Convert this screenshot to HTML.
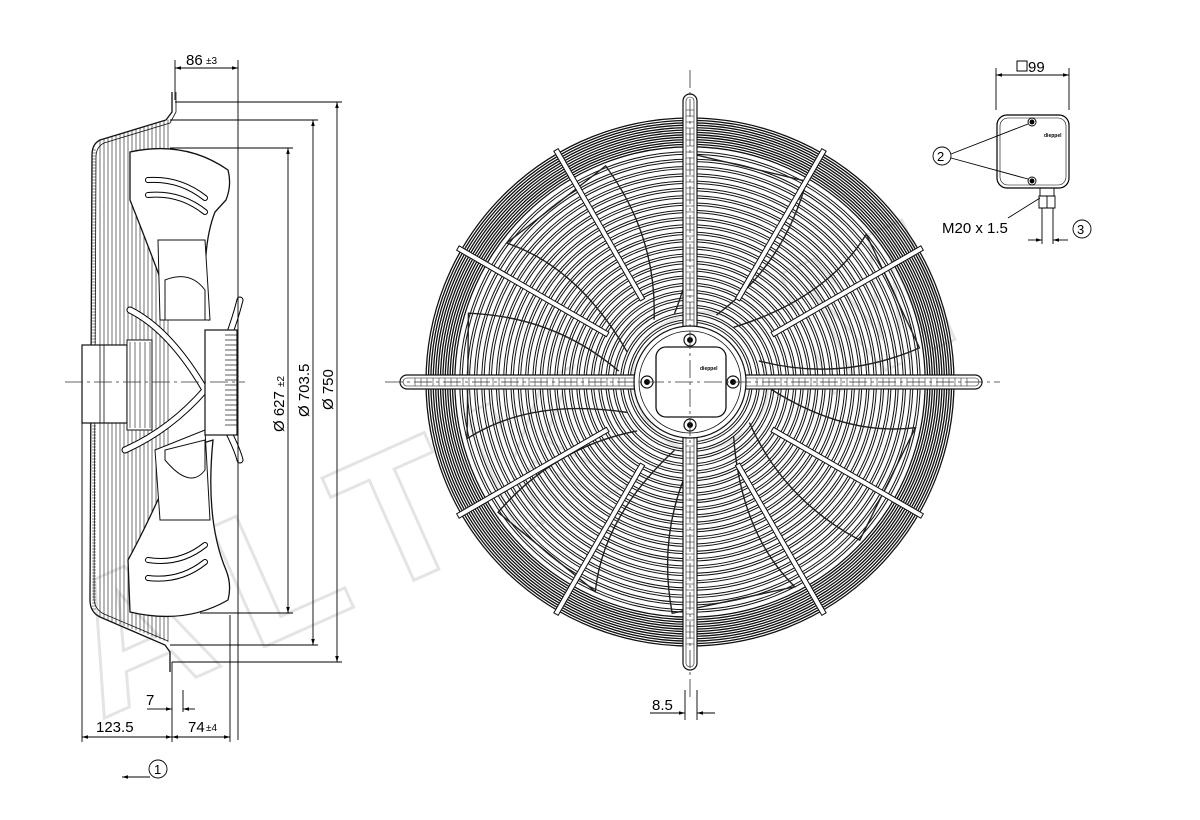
<!DOCTYPE html>
<html><head><meta charset="utf-8"><style>
html,body{margin:0;padding:0;background:#fff;}
svg{display:block;font-family:"Liberation Sans",Arial,sans-serif;}
</style></head><body>
<svg id="s" width="1200" height="820" viewBox="0 0 1200 820" xmlns="http://www.w3.org/2000/svg">
<defs>
<marker id="a" viewBox="0 0 10 10" refX="10" refY="5" markerWidth="10" markerHeight="6" orient="auto-start-reverse" markerUnits="userSpaceOnUse"><path d="M0,2 L10,5 L0,8 z" fill="#000"/></marker>
</defs>
<g fill="none" transform="translate(100,720) rotate(-24)">
<text x="0" y="0" font-size="190" font-weight="bold" letter-spacing="30" stroke="#e4e4e4" stroke-width="3" fill="none">ALTKOM</text>
</g>
<g id="front" fill="none" stroke="#111"></g>
<g id="side" fill="none" stroke="#111" stroke-width="1"></g>
<g stroke="#333" stroke-width="0.8" stroke-dasharray="18,4,3,4" fill="none">
<line x1="385" y1="382" x2="1000" y2="382"/>
<line x1="690" y1="70" x2="690" y2="700"/>
<line x1="65" y1="382" x2="245" y2="382"/>
</g>
<g stroke="#000" stroke-width="0.9" fill="none">
<line x1="175" y1="60" x2="175" y2="100"/>
<line x1="238" y1="60" x2="238" y2="740"/>
<line x1="175" y1="68" x2="238" y2="68" marker-start="url(#a)" marker-end="url(#a)"/>
<line x1="175" y1="102" x2="342" y2="102"/>
<line x1="170" y1="120" x2="318" y2="120"/>
<line x1="170" y1="148" x2="293" y2="148"/>
<line x1="200" y1="613" x2="293" y2="613"/>
<line x1="170" y1="645" x2="318" y2="645"/>
<line x1="172" y1="662" x2="342" y2="662"/>
<line x1="288" y1="148" x2="288" y2="613" marker-start="url(#a)" marker-end="url(#a)"/>
<line x1="313" y1="120" x2="313" y2="645" marker-start="url(#a)" marker-end="url(#a)"/>
<line x1="337" y1="102" x2="337" y2="662" marker-start="url(#a)" marker-end="url(#a)"/>
<line x1="82" y1="420" x2="82" y2="742"/>
<line x1="172" y1="662" x2="172" y2="742"/>
<line x1="230" y1="615" x2="230" y2="742"/>
<line x1="82" y1="737" x2="172" y2="737" marker-start="url(#a)" marker-end="url(#a)"/>
<line x1="172" y1="737" x2="230" y2="737" marker-start="url(#a)" marker-end="url(#a)"/>
<line x1="147" y1="709" x2="160" y2="709"/>
<line x1="160" y1="709" x2="172" y2="709" marker-end="url(#a)"/>
<line x1="195" y1="709" x2="183" y2="709" marker-end="url(#a)"/>
<line x1="183" y1="690" x2="183" y2="712"/>
<line x1="150" y1="777" x2="122" y2="777" marker-end="url(#a)"/>
<circle cx="158" cy="769" r="9"/>
<line x1="685" y1="690" x2="685" y2="720"/>
<line x1="697" y1="690" x2="697" y2="720"/>
<line x1="650" y1="713" x2="685" y2="713" marker-end="url(#a)"/>
<line x1="715" y1="713" x2="697" y2="713" marker-end="url(#a)"/>
</g>
<g font-size="15" fill="#000">
<text x="186" y="65">86</text><text x="206" y="64" font-size="10">±3</text>
<text transform="translate(284,432) rotate(-90)">Ø 627 <tspan font-size="10">±2</tspan></text>
<text transform="translate(309,417) rotate(-90)">Ø 703.5</text>
<text transform="translate(333,410) rotate(-90)">Ø 750</text>
<text x="146" y="705">7</text>
<text x="96" y="732">123.5</text>
<text x="188" y="732">74</text><text x="206" y="731" font-size="10">±4</text>
<text x="154" y="774" font-size="13">1</text>
<text x="652" y="710">8.5</text>
</g>
<g stroke="#000" stroke-width="0.9" fill="none">
<line x1="996" y1="68" x2="996" y2="110"/>
<line x1="1069" y1="68" x2="1069" y2="110"/>
<line x1="996" y1="75" x2="1069" y2="75" marker-start="url(#a)" marker-end="url(#a)"/>
<rect x="997" y="115" width="72" height="73" rx="10" stroke-width="1.2"/>
<rect x="1000" y="118" width="66" height="67" rx="8" stroke-width="0.6"/>
<circle cx="1032" cy="122" r="4"/><circle cx="1032" cy="122" r="2" fill="#000"/>
<circle cx="1032" cy="181" r="4"/><circle cx="1032" cy="181" r="2" fill="#000"/>
<circle cx="942" cy="156" r="9"/>
<line x1="951" y1="154" x2="1028" y2="124"/>
<line x1="951" y1="158" x2="1028" y2="179"/>
<rect x="1040" y="188" width="14" height="8"/>
<path d="M1039,196 h16 v12 h-16 z"/>
<line x1="1047" y1="196" x2="1047" y2="208"/>
<line x1="1042" y1="208" x2="1042" y2="244"/>
<line x1="1053" y1="208" x2="1053" y2="244"/>
<line x1="1008" y1="218" x2="1040" y2="198"/>
<line x1="1028" y1="240" x2="1042" y2="240" marker-end="url(#a)"/>
<line x1="1068" y1="240" x2="1053" y2="240" marker-end="url(#a)"/>
<circle cx="1082" cy="229" r="9"/>
</g>
<g font-size="15" fill="#000">
<text x="1028" y="72">99</text>
<rect x="1017" y="61" width="10" height="10" fill="none" stroke="#000"/>
<text x="1044" y="137" font-size="5" font-weight="bold">dieppel</text>
<text x="937" y="161" font-size="13">2</text>
<text x="942" y="233">M20 x 1.5</text>
<text x="1077" y="234" font-size="13">3</text>
</g>
</svg>
<script>
(function(){
var NS="http://www.w3.org/2000/svg";
function el(p,t,a){var e=document.createElementNS(NS,t);for(var k in a)e.setAttribute(k,a[k]);p.appendChild(e);return e;}
var f=document.getElementById('front'),cx=690,cy=382;
for(var r=264;r>=235;r-=2.4) el(f,'circle',{cx:cx,cy:cy,r:r,'stroke-width':1.3});
for(var r=229;r>=60;r-=7.3){el(f,'circle',{cx:cx,cy:cy,r:r,'stroke-width':3.4});el(f,'circle',{cx:cx,cy:cy,r:r,'stroke-width':1.4,stroke:'#fff'});}
for(var i=0;i<7;i++){var a=i*2*Math.PI/7;
 var p=function(rr,da){return [cx+rr*Math.cos(a+da),cy+rr*Math.sin(a+da)];};
 var A=p(70,0),B=p(160,0.35),C=p(230,0.2),D=p(232,0.75),E=p(150,0.9),F=p(72,0.6);
 el(f,'path',{d:'M'+A+' Q'+B+' '+C+' L'+D+' Q'+E+' '+F,'stroke-width':1.4,stroke:'#222'});}
for(var k=0;k<12;k++){if(k%3==0)continue;var a=k*Math.PI/6;
 var ca=Math.cos(a),sa=Math.sin(a),nx=-sa*2.5,ny=ca*2.5;
 var x1=cx+95*ca,y1=cy+95*sa,x2=cx+268*ca,y2=cy+268*sa;
 el(f,'polygon',{points:(x1+nx)+','+(y1+ny)+' '+(x2+nx)+','+(y2+ny)+' '+(x2-nx)+','+(y2-ny)+' '+(x1-nx)+','+(y1-ny),fill:'#fff','stroke-width':1});}
el(f,'rect',{x:683,y:94,width:14,height:576,rx:7,fill:'#fff','stroke-width':1.2});
el(f,'rect',{x:686,y:97,width:8,height:570,rx:4,'stroke-width':0.6});
el(f,'rect',{x:400,y:375,width:582,height:14,rx:7,fill:'#fff','stroke-width':1.2});
el(f,'rect',{x:403,y:378,width:576,height:8,rx:4,'stroke-width':0.6});
for(var y=110;y<650;y+=6){if(y>320&&y<445)continue;el(f,'line',{x1:686,y1:y,x2:694,y2:y,'stroke-width':0.5});}
for(var x=415;x<970;x+=6){if(x>625&&x<755)continue;el(f,'line',{x1:x,y1:378,x2:x,y2:386,'stroke-width':0.5});}
el(f,'circle',{cx:cx,cy:cy,r:56,fill:'#fff','stroke-width':1.2});
el(f,'circle',{cx:cx,cy:cy,r:51,'stroke-width':0.8});
el(f,'rect',{x:656,y:347,width:70,height:70,rx:10,fill:'#fff','stroke-width':1.3});
[[690,340],[690,425],[647,382],[733,382]].forEach(function(q){el(f,'circle',{cx:q[0],cy:q[1],r:6,fill:'#fff','stroke-width':1.2});el(f,'circle',{cx:q[0],cy:q[1],r:2.5,fill:'#000'});});
var t=el(f,'text',{x:700,y:370,'font-size':5,'font-weight':'bold',fill:'#000',stroke:'none'});t.textContent='dieppel';
var s=document.getElementById('side');
el(s,'path',{d:'M172,92 L172,112 L166,120 L100,140 Q92,144 92,155 L90,600 Q90,612 100,617 L165,645 L170,652 L170,672','stroke-width':1.3});
el(s,'path',{d:'M176,92 L176,112 L170,123 L104,143 Q96,147 96,157 L94,598 Q94,609 104,614 L168,641','stroke-width':0.8});
for(var x=100;x<170;x+=4){var yt=140-(x-100)*0.3,yb=617+(x-100)*0.37;el(s,'line',{x1:x,y1:yt,x2:x,y2:yb,'stroke-width':0.6});}
for(var y=150;y<610;y+=3)el(s,'line',{x1:92,y1:y,x2:96,y2:y,'stroke-width':0.5});
el(s,'path',{d:'M130,152 Q185,140 228,170 Q232,185 226,200 L215,212 Q200,250 208,320 L172,310 Q150,250 130,200 Z',fill:'#fff','stroke-width':1.3});
el(s,'path',{d:'M130,612 Q185,625 228,600 Q232,585 226,570 Q205,520 213,440 L180,450 Q150,520 128,560 Z',fill:'#fff','stroke-width':1.3});
el(s,'path',{d:'M148,180 Q180,178 205,198 M148,195 Q180,192 205,212 M148,560 Q180,565 205,545 M148,578 Q180,582 205,562','stroke-width':6,stroke:'#000','stroke-linecap':'round'});
el(s,'path',{d:'M148,180 Q180,178 205,198 M148,195 Q180,192 205,212 M148,560 Q180,565 205,545 M148,578 Q180,582 205,562','stroke-width':4,stroke:'#fff','stroke-linecap':'round'});
el(s,'path',{d:'M158,240 L205,240 L210,320 L160,320 Z M155,450 L205,430 L210,520 L160,520 Z',fill:'#fff','stroke-width':1});
el(s,'path',{d:'M165,280 Q190,270 205,290 L205,320 L165,320 Z M165,460 Q190,490 205,470 L205,440 L165,450 Z','stroke-width':1});
el(s,'path',{d:'M130,310 Q170,330 205,390 Q235,440 240,460 M125,450 Q170,430 205,390 Q230,340 240,300','stroke-width':7,stroke:'#000','stroke-linecap':'round'});
el(s,'path',{d:'M130,310 Q170,330 205,390 Q235,440 240,460 M125,450 Q170,430 205,390 Q230,340 240,300','stroke-width':5,stroke:'#fff','stroke-linecap':'round'});
el(s,'rect',{x:205,y:330,width:32,height:105,fill:'#fff','stroke-width':1.2});
for(var y=335;y<430;y+=5)el(s,'line',{x1:225,y1:y,x2:237,y2:y,'stroke-width':0.7});
el(s,'rect',{x:82,y:345,width:45,height:78,fill:'#fff','stroke-width':1.2});
el(s,'line',{x1:100,y1:345,x2:100,y2:423,'stroke-width':0.8});el(s,'line',{x1:104,y1:345,x2:104,y2:423,'stroke-width':0.8});
el(s,'rect',{x:127,y:340,width:25,height:90,fill:'#fff','stroke-width':1});
for(var x=130;x<152;x+=5)el(s,'line',{x1:x,y1:342,x2:x,y2:428,'stroke-width':0.6});
})();
</script>
</body></html>
